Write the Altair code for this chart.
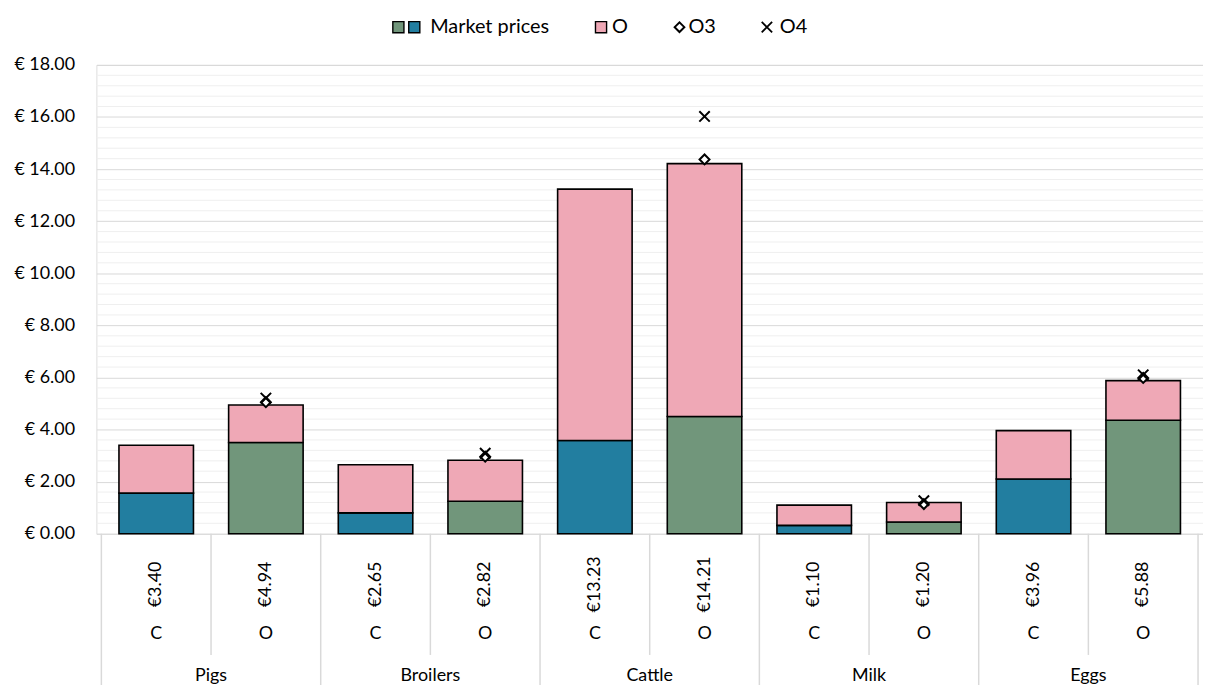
import altair as alt
import pandas as pd

# ---- data ----
groups = ["Pigs", "Broilers", "Cattle", "Milk", "Eggs"]
systems = ["C", "O"]
totals = [3.40, 4.94, 2.65, 2.82, 13.23, 14.21, 1.10, 1.20, 3.96, 5.88]
market = [1.56, 3.50, 0.80, 1.25, 3.58, 4.50, 0.32, 0.45, 2.10, 4.36]
o3_vals = [5.05, 2.96, 14.37, 1.14, 5.98]   # O bars only
o4_vals = [5.21, 3.09, 16.02, 1.27, 6.10]   # O bars only
major_ticks = [0, 2, 4, 6, 8, 10, 12, 14, 16, 18]

BLUE = "#227EA0"
GREEN = "#71967B"
PINK = "#EFA8B6"
FONT = "Lato"

W, H = 1114, 472

rows, labels, marks = [], [], []
for i, tot in enumerate(totals):
    s = systems[i % 2]
    pos = i + 0.5
    rows.append({"pos": pos, "seg": "m" + s, "val": market[i], "ord": 0})
    rows.append({"pos": pos, "seg": "O", "val": round(tot - market[i], 2), "ord": 1})
    labels.append({"pos": pos, "price": "€" + format(tot, ".2f"), "sys": s})
for gi, g in enumerate(groups):
    marks.append({"pos": gi * 2 + 1.5, "o3": o3_vals[gi], "o4": o4_vals[gi]})

bars_df = pd.DataFrame(rows)
lab_df = pd.DataFrame(labels)
mk_df = pd.DataFrame(marks)
grp_df = pd.DataFrame({"pos": [gi * 2 + 1 for gi in range(len(groups))], "name": groups})
sep_inner = pd.DataFrame({"pos": [gi * 2 + 1 for gi in range(len(groups))]})
sep_outer = pd.DataFrame({"pos": [gi * 2 for gi in range(len(groups) + 1)]})
minor_df = pd.DataFrame({"v": [round(0.4 * k, 1) for k in range(46) if k % 5 != 0]})
one = pd.DataFrame({"k": [0]})

xscale = alt.Scale(domain=[0, 10], nice=False, zero=False)
X = alt.X("pos:Q", scale=xscale, axis=None)
yscale = alt.Scale(domain=[0, 18], nice=False)

yaxis = alt.Axis(
    values=major_ticks,
    labelExpr="'€ ' + format(datum.value, '.2f')",
    gridColor="#d9d9d9",
    gridWidth=1,
    domain=False,
    ticks=False,
    labelOverlap=False,
    labelFlush=False,
    labelPadding=22,
    labelFont=FONT,
    labelFontSize=18,
    labelColor="#000000",
    title=None,
)

minor = alt.Chart(minor_df).mark_rule(color="#efefef", strokeWidth=1).encode(
    y=alt.Y("v:Q", scale=yscale, axis=yaxis))

bars = alt.Chart(bars_df).mark_bar(size=75, stroke="black", strokeWidth=1.6).encode(
    x=X,
    y=alt.Y("val:Q", stack="zero", scale=yscale, axis=yaxis),
    color=alt.Color("seg:N", scale=alt.Scale(domain=["mC", "mO", "O"], range=[BLUE, GREEN, PINK]), legend=None),
    order=alt.Order("ord:Q"),
)

o3 = alt.Chart(mk_df).mark_point(shape="diamond", filled=True, fill="white", stroke="black",
                                 strokeWidth=2, size=100, opacity=1).encode(x=X, y=alt.Y("o3:Q"))
o4 = alt.Chart(mk_df).mark_point(shape="M-1,-1L1,1M-1,1L1,-1", filled=False, stroke="black",
                                 strokeWidth=2, size=110, opacity=1).encode(x=X, y=alt.Y("o4:Q"))

price_txt = alt.Chart(lab_df).mark_text(angle=270, font=FONT, fontSize=18, color="black",
                                        align="center", baseline="middle").encode(
    x=X, y=alt.value(H + 51), text="price:N")
sys_txt = alt.Chart(lab_df).mark_text(font=FONT, fontSize=18, color="black",
                                      align="center", baseline="middle").encode(
    x=X, y=alt.value(H + 101), text="sys:N")
grp_txt = alt.Chart(grp_df).mark_text(font=FONT, fontSize=18, color="black",
                                      align="center", baseline="middle").encode(
    x=X, y=alt.value(H + 143), text="name:N")

rule_in = alt.Chart(sep_inner).mark_rule(color="#d9d9d9", strokeWidth=1.5).encode(
    x=X, y=alt.value(H), y2=alt.value(H + 122))
rule_out = alt.Chart(sep_outer).mark_rule(color="#d9d9d9", strokeWidth=1.5).encode(
    x=X, y=alt.value(H), y2=alt.value(H + 160))

# ---- legend (top) ----
LY = -38
def sq(xv, color):
    return alt.Chart(one).mark_point(shape="square", filled=True, fill=color, stroke="black",
                                     strokeWidth=1.4, size=125, opacity=1).encode(
        x=alt.value(xv), y=alt.value(LY))

def lt(xv, txt):
    return alt.Chart(one).mark_text(text=txt, font=FONT, fontSize=20, color="black",
                                    align="left", baseline="middle").encode(
        x=alt.value(xv), y=alt.value(LY))

leg = [
    sq(304, GREEN), sq(320, BLUE), lt(336, "Market prices"),
    sq(508, PINK), lt(519, "O"),
    alt.Chart(one).mark_point(shape="diamond", filled=True, fill="white", stroke="black",
                              strokeWidth=2, size=95, opacity=1).encode(
        x=alt.value(587), y=alt.value(LY)),
    lt(596, "O3"),
    alt.Chart(one).mark_point(shape="M-1,-1L1,1M-1,1L1,-1", filled=False, stroke="black",
                              strokeWidth=1.8, size=110, opacity=1).encode(
        x=alt.value(675), y=alt.value(LY)),
    lt(688, "O4"),
]

chart = alt.layer(minor, rule_in, rule_out, bars, o3, o4, price_txt, sys_txt, grp_txt, *leg).properties(
    width=W, height=H,
    padding={"left": 89, "top": 55, "right": 0, "bottom": 150},
    autosize=alt.AutoSizeParams(type="none"),
).configure_view(stroke=None).configure(background="white")

chart.save("out.html", embed_options={"renderer": "svg", "actions": False})
